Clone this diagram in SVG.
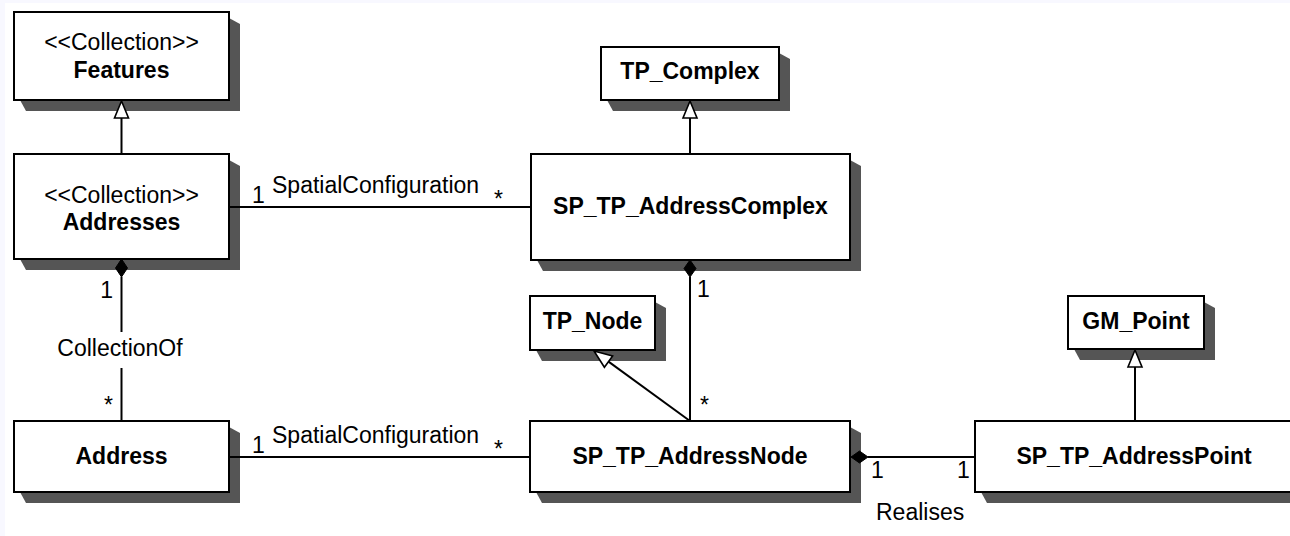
<svg xmlns="http://www.w3.org/2000/svg" width="1290" height="536" viewBox="0 0 1290 536">
<style>
.box{fill:#fff;stroke:#000;stroke-width:2}
.sh{fill:#555;stroke:none}
.ln{fill:none;stroke:#000;stroke-width:2}
.gen{fill:#fff;stroke:#000;stroke-width:1.6}
.dia{fill:#000;stroke:#000;stroke-width:1}
text{font-family:"Liberation Sans",Arial,sans-serif;font-size:23px;fill:#000}
.b{font-weight:bold;text-anchor:middle}
.c{text-anchor:middle}
.e{text-anchor:end}
</style>
<rect x="0" y="0" width="1290" height="536" fill="#f8f8ff"/>
<rect x="5" y="3" width="1285" height="533" fill="#fff"/>
<g id="features">
  <polygon class="sh" points="229,18 240,24 240,111 26,111 20,100"/>
  <rect class="box" x="14" y="12" width="215" height="88"/>
  <text class="c" x="121.5" y="50">&lt;&lt;Collection&gt;&gt;</text>
  <text class="b" x="121.5" y="78">Features</text>
</g>
<g id="addresses">
  <polygon class="sh" points="229,160 240,166 240,270 26,270 20,259"/>
  <rect class="box" x="14" y="154" width="215" height="105"/>
  <text class="c" x="121.5" y="203">&lt;&lt;Collection&gt;&gt;</text>
  <text class="b" x="121.5" y="230">Addresses</text>
</g>
<g id="address">
  <polygon class="sh" points="229,427 240,433 240,503 26,503 20,492"/>
  <rect class="box" x="14" y="421" width="215" height="71"/>
  <text class="b" x="121.5" y="464">Address</text>
</g>
<g id="tp_complex">
  <polygon class="sh" points="779,53 790,59 790,111 613,111 607,100"/>
  <rect class="box" x="601" y="47" width="178" height="53"/>
  <text class="b" x="690" y="79">TP_Complex</text>
</g>
<g id="sp_tp_addresscomplex">
  <polygon class="sh" points="850,160 861,166 861,271 543,271 537,260"/>
  <rect class="box" x="531" y="154" width="319" height="106"/>
  <text class="b" x="690.5" y="214">SP_TP_AddressComplex</text>
</g>
<g id="tp_node">
  <polygon class="sh" points="655,302 666,308 666,361 542,361 536,350"/>
  <rect class="box" x="530" y="296" width="125" height="54"/>
  <text class="b" x="592.5" y="329">TP_Node</text>
</g>
<g id="sp_tp_addressnode">
  <polygon class="sh" points="850,427 861,433 861,503 542,503 536,492"/>
  <rect class="box" x="530" y="421" width="320" height="71"/>
  <text class="b" x="690" y="464">SP_TP_AddressNode</text>
</g>
<g id="gm_point">
  <polygon class="sh" points="1204,302 1215,308 1215,360 1080,360 1074,349"/>
  <rect class="box" x="1068" y="296" width="136" height="53"/>
  <text class="b" x="1136" y="329">GM_Point</text>
</g>
<g id="sp_tp_addresspoint">
  <polygon class="sh" points="1300,427 1311,433 1311,503 987,503 981,492"/>
  <rect class="box" x="975" y="421" width="325" height="71"/>
  <text class="b" x="1134" y="464">SP_TP_AddressPoint</text>
</g>
<g id="connectors">
  <line class="ln" x1="121.5" y1="118" x2="121.5" y2="154"/>
  <polygon class="gen" points="121.5,101 128.5,118 114.5,118"/>
  <line class="ln" x1="690" y1="118" x2="690" y2="154"/>
  <polygon class="gen" points="690,101 697,118 683,118"/>
  <line class="ln" x1="1135" y1="367" x2="1135" y2="421"/>
  <polygon class="gen" points="1135,350 1142,367 1128,367"/>
  <line class="ln" x1="608.5" y1="361.6" x2="690" y2="421"/>
  <polygon class="gen" points="594,351 612.6,355.9 604.4,367.3"/>
  <line class="ln" x1="229" y1="207" x2="531" y2="207"/>
  <text x="252" y="203">1</text>
  <text x="272" y="193">SpatialConfiguration</text>
  <text x="494" y="207">*</text>
  <line class="ln" x1="229" y1="457" x2="530" y2="457"/>
  <text x="252" y="453">1</text>
  <text x="272" y="443">SpatialConfiguration</text>
  <text x="494" y="457">*</text>
  <line class="ln" x1="121.5" y1="277" x2="121.5" y2="332"/>
  <line class="ln" x1="121.5" y1="368" x2="121.5" y2="421"/>
  <polygon class="dia" points="121.5,259 127.5,268 121.5,277 115.5,268"/>
  <text class="e" x="113" y="298">1</text>
  <text class="c" x="120" y="356">CollectionOf</text>
  <text class="e" x="113" y="413">*</text>
  <line class="ln" x1="690" y1="277" x2="690" y2="421"/>
  <polygon class="dia" points="690,260 696,268.5 690,277 684,268.5"/>
  <text x="697" y="297">1</text>
  <text x="700" y="413">*</text>
  <line class="ln" x1="868" y1="457" x2="975" y2="457"/>
  <polygon class="dia" points="851,457 859.5,451 868,457 859.5,463"/>
  <text x="871" y="478">1</text>
  <text x="957" y="478">1</text>
  <text x="876" y="520">Realises</text>
</g>
</svg>
